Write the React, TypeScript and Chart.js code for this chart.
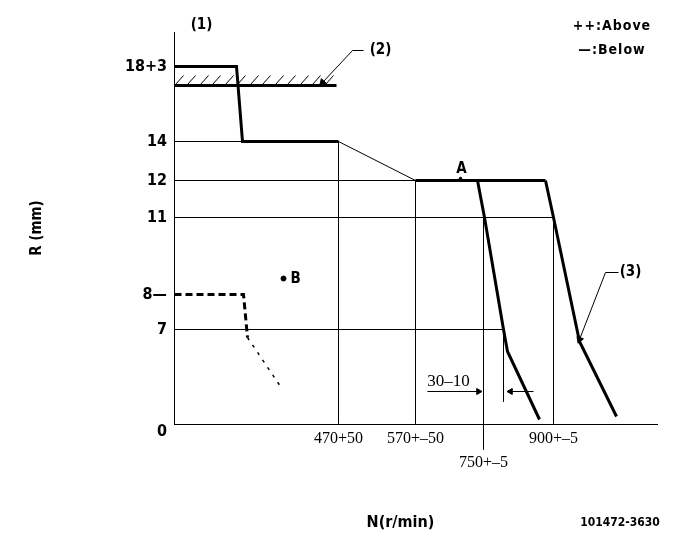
import React, { useEffect, useRef } from "react";
import { Chart, registerables } from "chart.js";

Chart.register(...registerables);

// ---- Schematic diagram units (the drawing is not to scale) ----
// R axis (rack position) tick positions and labels
const rTickValues = [0, 94, 129, 206, 243, 282, 357];
const rTickLabels: (string | string[])[] = [["", "0"], "7", "8—", "11", "12", "14", "18+3"];
// N axis (speed) tick positions and labels
const nTickValues = [164, 241, 309, 379];
const nTickLabels: (string | string[])[] = ["470+50", "570+–50", ["", "750+–5"], "900+–5"];

// Governor characteristic, thick segments
const fullN = [0, 62, 68, 164];
const fullR = [357, 357, 282, 282];
const rampN = [164, 241];
const rampR = [282, 243];
const flatN = [241, 371];
const flatR = [243, 243];
const drop1N = [303, 310, 329, 333, 365];
const drop1R = [243, 206, 94, 72, 4];
const drop2N = [371, 379, 405, 442];
const drop2R = [243, 206, 82, 7];

// Stop line (2) with hatching
const stopN = [0, 162];
const stopR = [338, 338];
const hatchN = [1, 13, 26, 38, 51, 63, 76, 88, 101, 113, 126, 138, 151];
const hatchLowR = 339;
const hatchHighR = 348;

// Dashed characteristic
const dashN = [0, 69, 73];
const dashR = [129, 129, 86];
const dash2N = [73, 106];
const dash2R = [86, 37];

// Horizontal reference levels (from axis to end N)
const levelR = [282, 243, 206, 94];
const levelEndN = [164, 241, 379, 329];
// Vertical reference lines
const vertN = [164, 241, 309, 379, 329];
const vertTopR = [282, 243, 206, 206, 94];
const vertBottomR = [0, 0, -26, 0, 22];

// Leaders and arrows
const lead2N = [189, 178, 148];
const lead2R = [373, 373, 341];
const lead3N = [444, 431, 405];
const lead3R = [151, 151, 84];
const arrowLeftN = [253, 304];
const arrowRightN = [359, 336];
const arrowR = 32;

// Points
const pointB = { n: 109, r: 145 };
const pointA = { n: 286, r: 245 };

const BOLD = '"DejaVu Sans Condensed", "DejaVu Sans", sans-serif';
const SERIF = '"Liberation Serif", serif';

const pts = (xs: number[], ys: number[]) => xs.map((x, i) => ({ x, y: ys[i] }));

function lineDs(data: any[], width: number, extra: any = {}) {
  return {
    type: "line",
    data,
    borderColor: "#000",
    backgroundColor: "#000",
    borderWidth: width,
    pointRadius: 0,
    tension: 0,
    fill: false,
    clip: false,
    spanGaps: false,
    ...extra,
  };
}

const textPlugin = {
  id: "annotTexts",
  afterDatasetsDraw(chart: any) {
    const { ctx, scales } = chart;
    const xs = scales.x;
    const ys = scales.y;
    const px = (n: number) => xs.getPixelForValue(n);
    const py = (r: number) => ys.getPixelForValue(r);
    const draw = (t: string, x: number, y: number, font: string, align: CanvasTextAlign = "center", ls = "0px") => {
      ctx.save();
      ctx.fillStyle = "#000";
      ctx.font = font;
      ctx.textAlign = align;
      ctx.textBaseline = "middle";
      (ctx as any).letterSpacing = ls;
      ctx.fillText(t, x, y);
      ctx.restore();
    };
    draw("(1)", px(27), py(398), `bold 15px ${BOLD}`);
    draw("(2)", px(206), py(373), `bold 15px ${BOLD}`);
    draw("(3)", px(456), py(151), `bold 15px ${BOLD}`);
    draw("A", px(287), py(254), `bold 15px ${BOLD}`);
    draw("B", px(116), py(144), `bold 15px ${BOLD}`, "left");
    draw("30–10", px(274), py(42), `17px ${SERIF}`);
    draw("++:Above", 612, 26, `bold 14px ${BOLD}`, "center", "1px");
    draw("—:Below", 612, 50, `bold 14px ${BOLD}`, "center", "1px");
    draw("101472-3630", 620, 523, `bold 12px ${BOLD}`);
  },
};

export default function App() {
  const ref = useRef<HTMLCanvasElement | null>(null);

  useEffect(() => {
    if (!ref.current) return;

    const datasets: any[] = [];
    // reference levels
    levelR.forEach((r, i) => datasets.push(lineDs(pts([0, levelEndN[i]], [r, r]), 1)));
    vertN.forEach((n, i) => datasets.push(lineDs(pts([n, n], [vertTopR[i], vertBottomR[i]]), 1)));
    // thin ramp
    datasets.push(lineDs(pts(rampN, rampR), 1));
    // thick characteristic
    datasets.push(lineDs(pts(fullN, fullR), 3));
    datasets.push(lineDs(pts(flatN, flatR), 3));
    datasets.push(lineDs(pts(drop1N, drop1R), 3));
    datasets.push(lineDs(pts(drop2N, drop2R), 3));
    // stop line + hatch
    datasets.push(lineDs(pts(stopN, stopR), 3));
    const hatch: any[] = [];
    hatchN.forEach((n) => {
      hatch.push({ x: n, y: hatchLowR }, { x: n + 8, y: hatchHighR }, { x: n + 8, y: null });
    });
    datasets.push(lineDs(hatch, 1));
    // dashed
    datasets.push(lineDs(pts(dashN, dashR), 3, { borderDash: [7, 4] }));
    datasets.push(lineDs(pts(dash2N, dash2R), 1.5, { borderDash: [3, 6] }));
    // leaders with arrowheads
    datasets.push(
      lineDs(pts(lead2N, lead2R), 1, {
        pointStyle: "triangle",
        pointRadius: [0, 0, 4],
        rotation: [0, 0, 223],
        pointBackgroundColor: "#000",
      })
    );
    datasets.push(
      lineDs(pts(lead3N, lead3R), 1, {
        pointStyle: "triangle",
        pointRadius: [0, 0, 4],
        rotation: [0, 0, 201],
        pointBackgroundColor: "#000",
      })
    );
    datasets.push(
      lineDs(pts(arrowLeftN, [arrowR, arrowR]), 1, {
        pointStyle: "triangle",
        pointRadius: [0, 3.5],
        rotation: [0, 90],
        pointBackgroundColor: "#000",
      })
    );
    datasets.push(
      lineDs(pts(arrowRightN, [arrowR, arrowR]), 1, {
        pointStyle: "triangle",
        pointRadius: [0, 3.5],
        rotation: [0, 270],
        pointBackgroundColor: "#000",
      })
    );
    // points A, B
    datasets.push(
      lineDs([{ x: pointB.n, y: pointB.r }], 1, { showLine: false, pointRadius: 2.5, pointBackgroundColor: "#000" })
    );
    datasets.push(
      lineDs([{ x: pointA.n, y: pointA.r }], 1, { showLine: false, pointRadius: 1.3, pointBackgroundColor: "#000" })
    );

    const chart = new Chart(ref.current, {
      type: "line",
      data: { datasets },
      plugins: [textPlugin],
      options: {
        responsive: false,
        animation: false,
        events: [],
        layout: { padding: { top: 32, right: 28, left: 0, bottom: 0 } },
        plugins: { legend: { display: false }, tooltip: { enabled: false } },
        scales: {
          x: {
            type: "linear",
            min: -0.5,
            max: 482.5,
            grid: { display: false, drawTicks: false },
            border: { display: true, color: "#000", width: 1 },
            afterFit: (s: any) => {
              s.height = 125;
            },
            afterBuildTicks: (s: any) => {
              s.ticks = nTickValues.map((v) => ({ value: v }));
            },
            ticks: {
              autoSkip: false,
              maxRotation: 0,
              padding: 3,
              color: "#000",
              font: { family: SERIF, size: 16, lineHeight: 1.5 },
              callback: (v: any) => {
                const i = nTickValues.indexOf(Number(v));
                return i >= 0 ? nTickLabels[i] : "";
              },
            },
            title: {
              display: true,
              text: "N(r/min)      ",
              color: "#000",
              font: { family: BOLD, size: 16, weight: "bold", lineHeight: 1.2 },
              padding: { top: 0, bottom: 17 },
            },
          },
          y: {
            type: "linear",
            min: -0.5,
            max: 391.5,
            grid: { display: false, drawTicks: false },
            border: { display: true, color: "#000", width: 1 },
            afterFit: (s: any) => {
              s.width = 174;
            },
            afterBuildTicks: (s: any) => {
              s.ticks = rTickValues.map((v) => ({ value: v }));
            },
            ticks: {
              autoSkip: false,
              padding: 7,
              color: "#000",
              font: { family: BOLD, size: 16, weight: "bold", lineHeight: 1.05 },
              callback: (v: any) => {
                const i = rTickValues.indexOf(Number(v));
                return i >= 0 ? rTickLabels[i] : "";
              },
            },
            title: {
              display: true,
              text: "R (mm)",
              color: "#000",
              font: { family: BOLD, size: 15, weight: "bold", lineHeight: 1.2 },
              padding: { top: 28, bottom: 0 },
            },
          },
        },
      } as any,
    } as any);

    return () => chart.destroy();
  }, []);

  return (
    <div style={{ position: "absolute", left: 0, top: 0, width: 685, height: 549, background: "#fff" }}>
      <canvas ref={ref} width={685} height={549} style={{ display: "block" }} />
    </div>
  );
}
